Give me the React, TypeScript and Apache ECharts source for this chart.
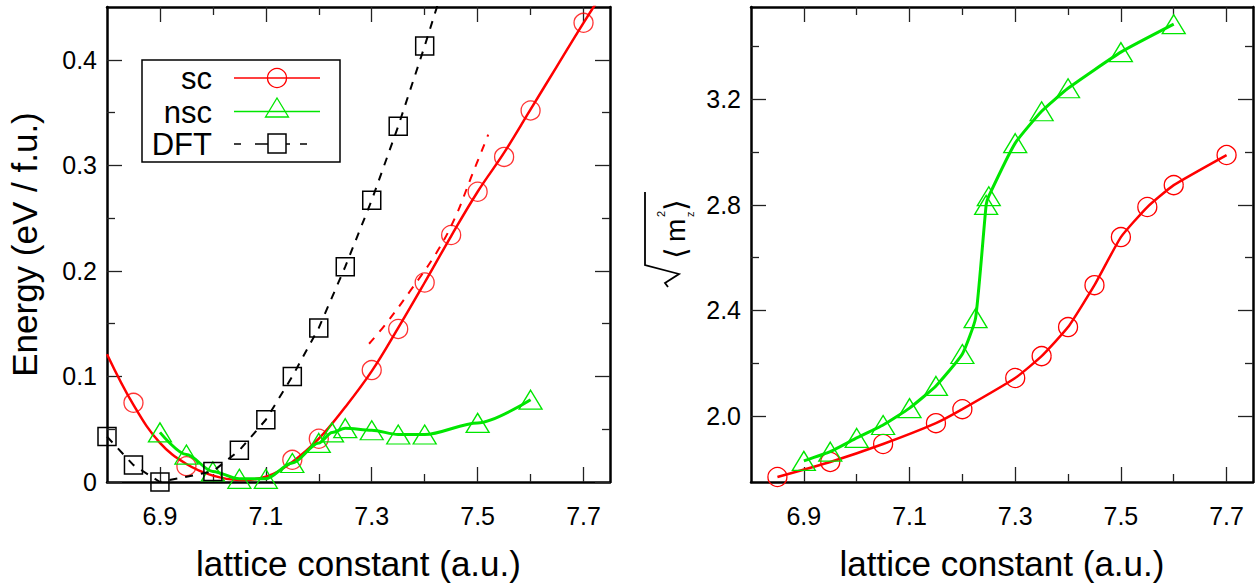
import React, { useEffect, useRef } from 'react';
import * as echarts from 'echarts';

const FONT = "'Liberation Sans', Arial, Helvetica, 'DejaVu Sans', sans-serif";
const RED = '#ff0000';
const GREEN = '#00e600';
const BLACK = '#000000';

// ---- tick values ----
const latticeMajor = [6.9, 7.1, 7.3, 7.5, 7.7];
const latticeMinor = [7.0, 7.2, 7.4, 7.6];
const energyMajor = [0, 0.1, 0.2, 0.3, 0.4];
const energyMinor = [0.05, 0.15, 0.25, 0.35];
const momentMajor = [2.0, 2.4, 2.8, 3.2];
const momentMinor = [2.2, 2.6, 3.0, 3.4];

// ---- left panel: energy ----
const scLattice = [6.85, 6.95, 7.15, 7.2, 7.3, 7.35, 7.4, 7.45, 7.5, 7.55, 7.6, 7.7];
const scEnergy = [0.075, 0.015, 0.021, 0.041, 0.106, 0.145, 0.189, 0.234, 0.275, 0.308, 0.352, 0.435];

const scFitLattice = [6.8, 6.85, 6.9, 6.95, 7.0, 7.05, 7.1, 7.15, 7.2, 7.25, 7.3, 7.35, 7.4, 7.45, 7.5, 7.55, 7.6, 7.65, 7.7, 7.75];
const scFitEnergy = [0.121, 0.073, 0.037, 0.017, 0.006, 0.002, 0.005, 0.019, 0.041, 0.071, 0.105, 0.146, 0.189, 0.233, 0.275, 0.312, 0.353, 0.394, 0.435, 0.474];

const scAltLattice = [7.295, 7.327, 7.374, 7.422, 7.457, 7.488, 7.52];
const scAltEnergy = [0.131, 0.150, 0.182, 0.217, 0.250, 0.289, 0.329];

const nscLattice = [6.9, 6.95, 7.0, 7.05, 7.1, 7.15, 7.2, 7.225, 7.25, 7.3, 7.35, 7.4, 7.5, 7.6];
const nscEnergy = [0.047, 0.026, 0.010, 0.003, 0.003, 0.018, 0.037, 0.047, 0.051, 0.049, 0.045, 0.045, 0.056, 0.078];

const dftLattice = [6.8, 6.85, 6.9, 7.0, 7.05, 7.1, 7.15, 7.2, 7.25, 7.3, 7.35, 7.4];
const dftEnergy = [0.043, 0.016, 0.0, 0.010, 0.030, 0.059, 0.100, 0.146, 0.204, 0.267, 0.337, 0.413];
const dftTailLattice = [7.45];
const dftTailEnergy = [0.493];

// ---- right panel: sqrt(<m_z^2>) ----
const scMLattice = [6.85, 6.95, 7.05, 7.15, 7.2, 7.3, 7.35, 7.4, 7.45, 7.5, 7.55, 7.6, 7.7];
const scMoment = [1.769, 1.826, 1.894, 1.973, 2.026, 2.144, 2.227, 2.337, 2.496, 2.678, 2.792, 2.875, 2.989];

const nscMLattice = [6.9, 6.95, 7.0, 7.05, 7.1, 7.15, 7.2, 7.225, 7.245, 7.25, 7.3, 7.35, 7.4, 7.5, 7.6];
const nscMoment = [1.83, 1.865, 1.917, 1.966, 2.03, 2.114, 2.235, 2.371, 2.80, 2.833, 3.034, 3.155, 3.242, 3.379, 3.485];

const zip = (xs: number[], ys: number[]) => xs.map((x, i) => [x, ys[i]]);

const TICK_COLOR = '#222';

function xAxesFor(grid: number, name: string) {
  const base = {
    gridIndex: grid,
    type: 'value',
    min: 6.8,
    max: 7.75,
    splitLine: { show: false },
  };
  return [
    {
      ...base,
      position: 'bottom',
      axisLine: { show: true, onZero: false, lineStyle: { color: BLACK, width: 2.5 } },
      axisTick: { show: true, inside: true, length: 15, customValues: latticeMajor, lineStyle: { color: TICK_COLOR, width: 1.3 } },
      axisLabel: {
        show: true,
        customValues: latticeMajor,
        formatter: (v: number) => v.toFixed(1),
        fontSize: 25,
        fontFamily: FONT,
        color: BLACK,
        margin: 21,
      },
      name,
      nameLocation: 'middle',
      nameGap: 64,
      nameTextStyle: { fontSize: 35, fontFamily: FONT, color: BLACK },
    },
    {
      ...base,
      position: 'bottom',
      axisLine: { show: false, onZero: false },
      axisTick: { show: true, inside: true, length: 8, customValues: latticeMinor, lineStyle: { color: TICK_COLOR, width: 1.3 } },
      axisLabel: { show: false },
    },
    {
      ...base,
      position: 'top',
      axisLine: { show: true, onZero: false, lineStyle: { color: BLACK, width: 2.5 } },
      axisTick: { show: true, inside: true, length: 15, customValues: latticeMajor, lineStyle: { color: TICK_COLOR, width: 1.3 } },
      axisLabel: { show: false },
    },
    {
      ...base,
      position: 'top',
      axisLine: { show: false, onZero: false },
      axisTick: { show: true, inside: true, length: 8, customValues: latticeMinor, lineStyle: { color: TICK_COLOR, width: 1.3 } },
      axisLabel: { show: false },
    },
  ];
}

function yAxesFor(grid: number, min: number, max: number, major: number[], minor: number[], fmt: (v: number) => string, name?: string) {
  const base = {
    gridIndex: grid,
    type: 'value',
    min,
    max,
    splitLine: { show: false },
  };
  const main: any = {
    ...base,
    position: 'left',
    axisLine: { show: true, onZero: false, lineStyle: { color: BLACK, width: 2.5 } },
    axisTick: { show: true, inside: true, length: 15, customValues: major, lineStyle: { color: TICK_COLOR, width: 1.3 } },
    axisLabel: {
      show: true,
      customValues: major,
      formatter: fmt,
      fontSize: 25,
      fontFamily: FONT,
      color: BLACK,
      margin: 10,
    },
  };
  if (name) {
    main.name = name;
    main.nameLocation = 'middle';
    main.nameRotate = 90;
    main.nameGap = 65;
    main.nameTextStyle = { fontSize: 35, fontFamily: FONT, color: BLACK };
  }
  return [
    main,
    {
      ...base,
      position: 'left',
      axisLine: { show: false, onZero: false },
      axisTick: { show: true, inside: true, length: 8, customValues: minor, lineStyle: { color: TICK_COLOR, width: 1.3 } },
      axisLabel: { show: false },
    },
    {
      ...base,
      position: 'right',
      axisLine: { show: true, onZero: false, lineStyle: { color: BLACK, width: 2.5 } },
      axisTick: { show: true, inside: true, length: 15, customValues: major, lineStyle: { color: TICK_COLOR, width: 1.3 } },
      axisLabel: { show: false },
    },
    {
      ...base,
      position: 'right',
      axisLine: { show: false, onZero: false },
      axisTick: { show: true, inside: true, length: 8, customValues: minor, lineStyle: { color: TICK_COLOR, width: 1.3 } },
      axisLabel: { show: false },
    },
  ];
}

const hollow = (c: string) => ({ color: 'rgba(0,0,0,0)', borderColor: c, borderWidth: 1.3 });

function buildOption() {
  const series: any[] = [
    // ----- left panel -----
    {
      name: 'sc fit',
      type: 'line',
      xAxisIndex: 0,
      yAxisIndex: 0,
      data: zip(scFitLattice, scFitEnergy),
      smooth: 0.4,
      showSymbol: false,
      symbol: 'none',
      lineStyle: { color: RED, width: 2.5 },
      z: 3,
    },
    {
      name: 'sc',
      type: 'scatter',
      xAxisIndex: 0,
      yAxisIndex: 0,
      data: zip(scLattice, scEnergy),
      symbol: 'circle',
      symbolSize: 19,
      itemStyle: hollow(RED),
      z: 4,
    },
    {
      name: 'sc alt',
      type: 'line',
      xAxisIndex: 0,
      yAxisIndex: 0,
      data: zip(scAltLattice, scAltEnergy),
      smooth: 0.4,
      showSymbol: false,
      symbol: 'none',
      lineStyle: { color: RED, width: 2, type: [8, 8] },
      z: 3,
    },
    {
      name: 'nsc',
      type: 'line',
      xAxisIndex: 0,
      yAxisIndex: 0,
      data: zip(nscLattice, nscEnergy),
      smooth: 0.3,
      smoothMonotone: 'x',
      symbol: 'triangle',
      symbolSize: [23, 19],
      showAllSymbol: true,
      itemStyle: hollow(GREEN),
      lineStyle: { color: GREEN, width: 3 },
      z: 5,
    },
    {
      name: 'DFT',
      type: 'line',
      xAxisIndex: 0,
      yAxisIndex: 0,
      data: [
        ...zip(dftLattice, dftEnergy),
        ...zip(dftTailLattice, dftTailEnergy).map((v) => ({ value: v, symbol: 'none' })),
      ],
      symbol: 'rect',
      symbolSize: 18,
      showAllSymbol: true,
      itemStyle: { color: 'rgba(0,0,0,0)', borderColor: BLACK, borderWidth: 1.5 },
      lineStyle: { color: BLACK, width: 2, type: [8, 8] },
      z: 6,
    },
    // ----- right panel -----
    {
      name: 'sc m',
      type: 'line',
      xAxisIndex: 4,
      yAxisIndex: 4,
      data: zip(scMLattice, scMoment),
      smooth: 0.15,
      symbol: 'circle',
      symbolSize: 19,
      showAllSymbol: true,
      itemStyle: hollow(RED),
      lineStyle: { color: RED, width: 2.5 },
      z: 3,
    },
    {
      name: 'nsc m',
      type: 'line',
      xAxisIndex: 4,
      yAxisIndex: 4,
      data: zip(nscMLattice, nscMoment),
      smooth: 0.15,
      symbol: 'triangle',
      symbolSize: [23, 19],
      showAllSymbol: true,
      itemStyle: hollow(GREEN),
      lineStyle: { color: GREEN, width: 3 },
      z: 4,
    },
  ];

  // legend drawn as graphic
  const lx0 = 142, ly0 = 60;
  const legend: any = {
    type: 'group',
    z: 100,
    children: [
      { type: 'rect', shape: { x: lx0, y: ly0, width: 198, height: 102 }, style: { fill: '#ffffff', stroke: BLACK, lineWidth: 1.5 }, z: 100 },
      ...[
        ['sc', 78],
        ['nsc', 112],
        ['DFT', 144],
      ].map(([t, y]) => ({
        type: 'text',
        x: 212,
        y: y as number,
        z: 101,
        style: {
          text: t as string,
          fill: BLACK,
          fontSize: 31,
          lineHeight: 28,
          fontFamily: FONT,
          textAlign: 'right',
          align: 'right',
          textVerticalAlign: 'middle',
          verticalAlign: 'middle',
        },
      })),
      { type: 'line', z: 101, shape: { x1: 234, y1: 78, x2: 320, y2: 78 }, style: { stroke: RED, lineWidth: 1.5 } },
      { type: 'circle', z: 102, shape: { cx: 277, cy: 78, r: 9.5 }, style: { fill: 'rgba(0,0,0,0)', stroke: RED, lineWidth: 1.3 } },
      { type: 'line', z: 101, shape: { x1: 234, y1: 111.5, x2: 320, y2: 111.5 }, style: { stroke: GREEN, lineWidth: 1.5 } },
      { type: 'polygon', z: 102, shape: { points: [[277, 98], [288.5, 117], [265.5, 117]] }, style: { fill: 'rgba(0,0,0,0)', stroke: GREEN, lineWidth: 1.3 } },
      { type: 'line', z: 101, shape: { x1: 234, y1: 144, x2: 241, y2: 144 }, style: { stroke: BLACK, lineWidth: 1.5 } },
      { type: 'line', z: 101, shape: { x1: 255, y1: 144, x2: 268, y2: 144 }, style: { stroke: BLACK, lineWidth: 1.5 } },
      { type: 'line', z: 101, shape: { x1: 286, y1: 144, x2: 290, y2: 144 }, style: { stroke: BLACK, lineWidth: 1.5 } },
      { type: 'line', z: 101, shape: { x1: 300, y1: 144, x2: 307, y2: 144 }, style: { stroke: BLACK, lineWidth: 1.5 } },
      { type: 'rect', z: 102, shape: { x: 268, y: 134, width: 18, height: 19 }, style: { fill: 'rgba(0,0,0,0)', stroke: BLACK, lineWidth: 1.5 } },
    ],
  };

  // right y-axis title: sqrt(<m_z^2>) drawn rotated (local x -> screen up, local y -> screen right)
  const txt = (text: string, x: number, y: number, size: number, family = FONT) => ({
    type: 'text',
    x,
    y,
    style: {
      text,
      fill: BLACK,
      fontSize: size,
      fontFamily: family,
      align: 'left',
      textAlign: 'left',
      verticalAlign: 'middle',
      textVerticalAlign: 'middle',
    },
  });
  const mTitle: any = {
    type: 'group',
    x: 645,
    y: 287,
    rotation: Math.PI / 2,
    z: 100,
    children: [
      {
        type: 'polyline',
        shape: { points: [[0, 23], [4, 20], [13, 34], [22, 0], [95, 0]] },
        style: { stroke: BLACK, lineWidth: 1.8, fill: 'none' },
      },
      txt('⟨', 28, 30, 30, "'DejaVu Sans', sans-serif"),
      txt('m', 45, 30, 28),
      txt('2', 70, 16, 11),
      txt('z', 70, 45, 11),
      txt('⟩', 76, 30, 30, "'DejaVu Sans', sans-serif"),
    ],
  };

  return {
    animation: false,
    backgroundColor: '#ffffff',
    grid: [
      { left: 107, top: 7, width: 503, height: 475 },
      { left: 751, top: 7, width: 502, height: 475 },
    ],
    xAxis: [...xAxesFor(0, 'lattice constant (a.u.)'), ...xAxesFor(1, 'lattice constant (a.u.)')],
    yAxis: [
      ...yAxesFor(0, 0, 0.45, energyMajor, energyMinor, (v: number) => (v === 0 ? '0' : v.toFixed(1)), 'Energy (eV / f.u.)'),
      ...yAxesFor(1, 1.75, 3.55, momentMajor, momentMinor, (v: number) => v.toFixed(1)),
    ],
    series,
    graphic: [legend, mTitle],
  };
}

export default function App() {
  const ref = useRef<HTMLDivElement>(null);
  useEffect(() => {
    if (!ref.current) return;
    const chart = echarts.init(ref.current, undefined, { renderer: 'svg' });
    chart.setOption(buildOption() as any);
    return () => chart.dispose();
  }, []);
  return (
    <div
      ref={ref}
      style={{ position: 'fixed', left: 0, top: 0, width: 1259, height: 588, background: '#fff' }}
    />
  );
}
